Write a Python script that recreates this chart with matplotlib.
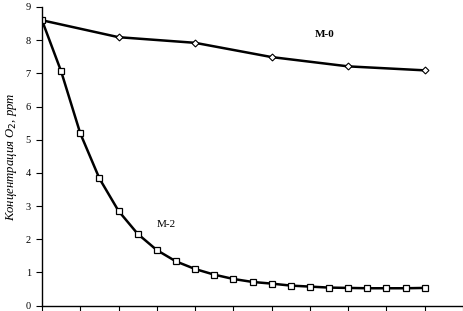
import matplotlib.pyplot as plt

# time points (x axis has no labels), O2 concentration in ppm
x_m0 = [0, 2, 4, 6, 8, 10]
y_m0 = [8.6, 8.09, 7.92, 7.49, 7.21, 7.09]

x_m2 = [0, 0.5, 1, 1.5, 2, 2.5, 3, 3.5, 4, 4.5, 5, 5.5, 6, 6.5, 7, 7.5, 8, 8.5, 9, 9.5, 10]
y_m2 = [8.6, 7.06, 5.19, 3.83, 2.85, 2.16, 1.67, 1.33, 1.1, 0.93, 0.8, 0.71, 0.66,
        0.6, 0.57, 0.54, 0.53, 0.52, 0.52, 0.52, 0.53]

y_ticks = list(range(0, 10))
x_ticks = list(range(0, 12))

plt.rcParams['font.family'] = ['Liberation Serif', 'DejaVu Serif']

fig = plt.figure(figsize=(4.64, 3.11), dpi=100)
ax = fig.add_axes([42 / 464, 5.5 / 311, 421 / 464, 298.5 / 311])

ax.plot(x_m0, y_m0, color='black', lw=1.8, marker='D', ms=3.5,
        mfc='white', mec='black', mew=0.8)
ax.plot(x_m2, y_m2, color='black', lw=1.8, marker='s', ms=5,
        mfc='white', mec='black', mew=0.9)

ax.text(7.14, 8.1, 'M-0', fontsize=8, fontweight='bold')
ax.text(3.0, 2.38, 'M-2', fontsize=8)

ax.set_xlim(0, 11)
ax.set_ylim(0, 9)
ax.set_xticks(x_ticks)
ax.set_xticklabels([])
ax.set_yticks(y_ticks)
ax.tick_params(axis='both', direction='out', length=4, width=0.8, labelsize=7.5, pad=4)
ax.tick_params(axis='x', length=5)
for side in ['top', 'right']:
    ax.spines[side].set_visible(False)
ax.spines['left'].set_linewidth(1)
ax.spines['bottom'].set_linewidth(1)

ax.set_ylabel('Концентрация O$_2$, ppm', fontsize=9.2, style='italic', labelpad=5)

fig.savefig('out.png', dpi=100)
